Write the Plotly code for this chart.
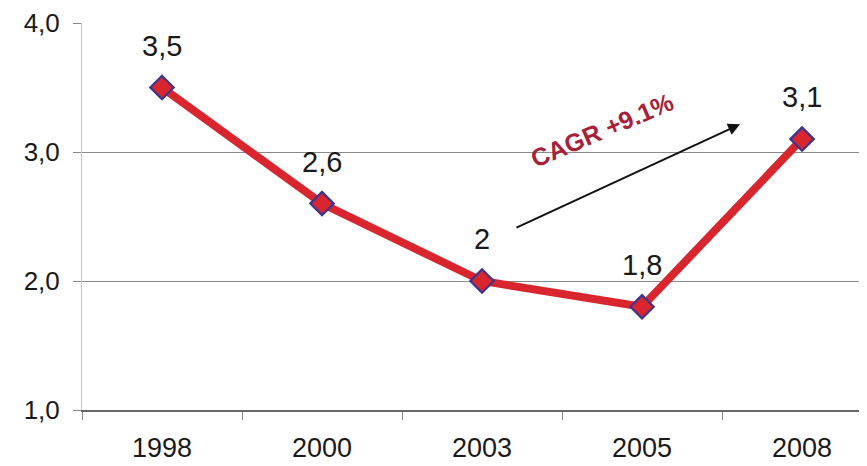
import plotly.graph_objects as go

years = ["1998", "2000", "2003", "2005", "2008"]
values = [3.5, 2.6, 2.0, 1.8, 3.1]
value_labels = ["3,5", "2,6", "2", "1,8", "3,1"]
y_ticks = [1.0, 2.0, 3.0, 4.0]
y_tick_labels = ["1,0", "2,0", "3,0", "4,0"]
cagr_text = "CAGR +9.1%"

fig = go.Figure()
fig.add_trace(go.Scatter(
    x=years, y=values, mode="lines+markers",
    line=dict(color="#d9262e", width=8),
    marker=dict(symbol="diamond", size=18, color="#d9262e",
                line=dict(color="#3b3590", width=2.2)),
    showlegend=False, hoverinfo="skip",
))

for i, (v, t) in enumerate(zip(values, value_labels)):
    fig.add_annotation(x=i, y=v, text=t, showarrow=False, yshift=42,
                       font=dict(family="Liberation Sans, Arial", size=29, color="#1a1a1a"))

# x category labels
for i, yr in enumerate(years):
    fig.add_annotation(x=i, xref="x", y=0, yref="paper", text=yr, showarrow=False,
                       yanchor="middle", yshift=-38,
                       font=dict(family="Liberation Sans, Arial", size=27, color="#1a1a1a"))

# CAGR arrow
fig.add_annotation(x=3.6125, y=3.215, ax=2.206, ay=2.408, xref="x", yref="y",
                   axref="x", ayref="y", text="", showarrow=True,
                   arrowhead=2, arrowsize=1.2, arrowwidth=2, arrowcolor="#111")
fig.add_annotation(x=2.75, y=3.17, text="<b>" + cagr_text + "</b>", showarrow=False,
                   textangle=-23,
                   font=dict(family="Liberation Sans, Arial", size=25, color="#a8203a"))

fig.update_layout(
    width=867, height=466,
    margin=dict(l=74, r=0, t=11, b=64),
    paper_bgcolor="white", plot_bgcolor="white",
    xaxis=dict(type="category", range=[-0.5, 4.456], tickson="boundaries",
               ticks="outside", ticklen=8, tickcolor="#888", showgrid=False,
               showline=True, linecolor="#666", linewidth=1.5,
               showticklabels=False,
               zeroline=False),
    yaxis=dict(range=[1.0, 4.0], tickvals=y_ticks, ticktext=y_tick_labels,
               ticks="outside", ticklen=8, tickcolor="#888",
               showgrid=True, gridcolor="#8a8a8a", gridwidth=1.2,
               showline=True, linecolor="#c8c8c8", linewidth=1,
               ticklabelstandoff=8, ticklabeloverflow="allow",
               tickfont=dict(family="Liberation Sans, Arial", size=26, color="#1a1a1a"),
               zeroline=False),
)

fig.write_html("out.html")
